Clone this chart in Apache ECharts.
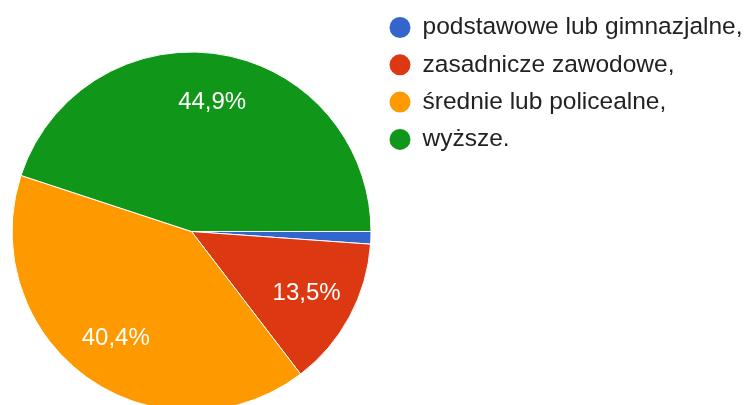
<!DOCTYPE html>
<html>
<head>
<meta charset="utf-8">
<script src="https://cdn.jsdelivr.net/npm/echarts@6/dist/echarts.min.js"></script>
<style>
  html, body { margin: 0; padding: 0; background: #fff; }
  #chart { width: 750px; height: 405px; }
</style>
</head>
<body>
<div id="chart"></div>
<script>
// respondents per education level
const categories = ['podstawowe lub gimnazjalne,', 'zasadnicze zawodowe,', 'średnie lub policealne,', 'wyższe.'];
const counts = [1, 12, 36, 40];
const colors = ['#3366cc', '#dc3912', '#ff9900', '#109618'];

const total = counts.reduce((a, b) => a + b, 0);
const pieData = categories.map((name, i) => ({
  name: name,
  value: counts[i],
  itemStyle: { color: colors[i] }
}));

const chart = echarts.init(document.getElementById('chart'));
const font = '"Liberation Sans", Arial, sans-serif';

const option = {
  animation: false,
  legend: {
    orient: 'vertical',
    left: 382.5,
    top: 10,
    icon: 'circle',
    itemWidth: 23,
    itemHeight: 23,
    itemGap: 12.3,
    selectedMode: false,
    data: categories,
    textStyle: {
      fontFamily: font,
      fontSize: 24.5,
      lineHeight: 24,
      color: '#222',
      padding: [0, 0, 0, 6]
    }
  },
  series: [
    {
      type: 'pie',
      center: [191.5, 231.5],
      radius: [0, 179.5],
      startAngle: 0,
      clockwise: true,
      silent: true,
      itemStyle: { borderColor: '#fff', borderWidth: 1 },
      label: { show: false },
      labelLine: { show: false },
      data: pieData
    },
    {
      // transparent overlay, only used to put the percentage labels further out
      type: 'pie',
      center: [191.5, 231.5],
      radius: [76, 179.5],
      startAngle: 0,
      clockwise: true,
      silent: true,
      itemStyle: { color: 'rgba(0,0,0,0)' },
      label: {
        show: true,
        position: 'inside',
        color: '#fff',
        fontFamily: font,
        fontSize: 24,
        formatter: p => p.value / total < 0.05 ? '' : (p.value / total * 100).toFixed(1).replace('.', ',') + '%'
      },
      labelLine: { show: false },
      data: categories.map((name, i) => ({ name: name, value: counts[i] }))
    }
  ]
};

chart.setOption(option);
window.addEventListener('resize', () => chart.resize());
</script>
</body>
</html>
